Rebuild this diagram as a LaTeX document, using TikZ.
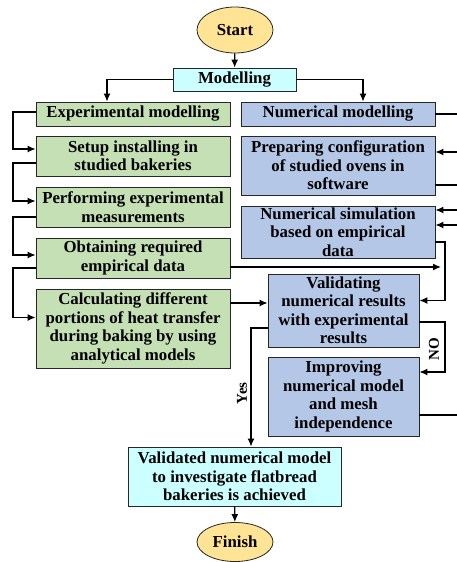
\documentclass[tikz,border=0pt]{standalone}
\usepackage{fontspec}
\setmainfont{Liberation Serif}
\usetikzlibrary{shapes.geometric,arrows.meta,calc}

\definecolor{expgreen}{RGB}{197,224,180}
\definecolor{numblue}{RGB}{180,199,231}
\definecolor{lightcyan}{RGB}{204,255,255}
\definecolor{termgold}{RGB}{255,228,150}

\tikzset{
    box/.style={draw=black!85, line width=0.8pt, inner xsep=2pt, inner ysep=0pt,
        align=center, font=\bfseries\fontsize{16.8}{18.5}\selectfont},
    expbox/.style={box, fill=expgreen, minimum width=194pt},
    numbox/.style={box, fill=numblue},
    cyanbox/.style={box, fill=lightcyan},
    term/.style={box, ellipse, fill=termgold, minimum width=76pt},
    arr/.style={-{Latex[length=8pt,width=7pt]}, line width=1.3pt},
    lne/.style={line width=1.3pt},
    lbl/.style={font=\bfseries\fontsize{15}{16}\selectfont, rotate=90}
}

\begin{document}
\begin{tikzpicture}[x=1pt, y=-1pt]
    \useasboundingbox (0,0) rectangle (457,562);

    % Start and first split
    \node[term, minimum height=46pt] (start) at (235,30) {Start};
    \node[cyanbox, minimum width=123pt, minimum height=23pt] (model) at (234.5,79.5) {Modelling};

    % Experimental branch
    \node[expbox, minimum height=24pt] (expm) at (133,114) {Experimental modelling};
    \node[expbox, minimum height=40pt] (setup) at (133,156) {Setup installing in\\studied bakeries};
    \node[expbox, minimum height=40pt] (perf) at (133,207) {Performing experimental\\measurements};
    \node[expbox, minimum height=40pt] (obt) at (133,258) {Obtaining required\\empirical data};
    \node[expbox, minimum height=79pt] (calc) at (133,328.5) {Calculating different\\portions of heat transfer\\during baking by using\\analytical models};

    % Numerical branch
    \node[numbox, minimum width=194pt, minimum height=24pt] (numm) at (338,114) {Numerical modelling};
    \node[numbox, minimum width=194pt, minimum height=59pt] (prep) at (338,165.5) {Preparing configuration\\of studied ovens in\\software};
    \node[numbox, minimum width=194pt, minimum height=52pt] (nsim) at (338,232) {Numerical simulation\\based on empirical\\data};
    \node[numbox, minimum width=151pt, minimum height=73pt] (valid) at (343.5,310.5) {Validating\\numerical results\\with experimental\\results};
    \node[numbox, minimum width=151pt, minimum height=79pt] (impr) at (343.5,396.5) {Improving\\numerical model\\and mesh\\independence};

    % Result and end
    \node[cyanbox, minimum width=213pt, minimum height=59pt] (final) at (234.5,476.5) {Validated numerical model\\to investigate flatbread\\bakeries is achieved};
    \node[term, minimum height=39pt] (finish) at (235,542) {Finish};

    % Guide lines for the side connectors
    \coordinate (lft) at (13,0);
    \coordinate (rgt) at (445,0);
    \coordinate (edge) at (457,0);

    \draw[arr] (start) -- (model);
    \draw[arr] (model.west) -| ([xshift=-26pt]expm.north);
    \draw[arr] (model.east) -| ([xshift=25pt]numm.north);

    % Left chain of the experimental steps
    \coordinate (e1) at ([yshift=2pt]expm.west);
    \coordinate (s1) at ([yshift=7pt]setup.west);
    \coordinate (s2) at ([yshift=-7pt]setup.west);
    \coordinate (p1) at ([yshift=6pt]perf.west);
    \coordinate (p2) at ([yshift=-10pt]perf.west);
    \coordinate (o1) at ([yshift=3pt]obt.west);
    \coordinate (o2) at ([yshift=-10pt]obt.west);
    \coordinate (c1) at ([yshift=11pt]calc.west);
    \draw[arr] (e1) -- (e1 -| lft) |- (s1);
    \draw[arr] (s2) -- (s2 -| lft) |- (p1);
    \draw[arr] (p2) -- (p2 -| lft) |- (o1);
    \draw[arr] (o2) -- (o2 -| lft) |- (c1);

    % Into the validation
    \coordinate (o3) at ([yshift=-9pt]obt.east);
    \coordinate (n1) at ([yshift=-10pt]nsim.east);
    \coordinate (v1) at ([yshift=10pt]valid.east);
    \coordinate (v2) at ([yshift=7.5pt]valid.west);
    \draw[arr, shorten >=4pt] (o3) -- (o3 -| rgt);
    \draw[arr] (n1) -- (n1 -| rgt) |- (v1);
    \draw[arr] (calc.east |- v2) -- (v2);

    % NO loop
    \coordinate (v3) at ([yshift=-11.5pt]valid.east);
    \coordinate (i1) at ([yshift=24.5pt]impr.east);
    \draw[arr] (v3) -- (v3 -| rgt) -- node[xshift=-11pt, lbl, pos=0.55] {NO} (i1 -| rgt) -- (i1);

    % Yes branch
    \coordinate (v4) at ([yshift=-17.5pt]valid.west);
    \coordinate (f1) at ([xshift=16.5pt]final.north);
    \draw[arr] (v4) -- (v4 -| f1) -- node[xshift=-9pt, lbl, pos=0.55] {Yes} (f1);
    \draw[arr] (final) -- (finish);

    % Connectors running off the right side
    \coordinate (r1) at (numm.east);
    \coordinate (r2) at ([yshift=13.5pt]prep.east);
    \coordinate (r3) at ([yshift=-19.5pt]prep.east);
    \coordinate (r4) at ([yshift=22pt]nsim.east);
    \coordinate (r5) at ([yshift=7pt]nsim.east);
    \coordinate (r6) at ([yshift=-18.5pt]impr.east);
    \draw[lne] (r1) -- (r1 -| edge);
    \draw[arr] (r2 -| edge) -- (r2);
    \draw[lne] (r3) -- (r3 -| edge);
    \draw[arr] (r4 -| edge) -- (r4);
    \draw[arr] (r5 -| edge) -- (r5);
    \draw[lne] (r6) -- (r6 -| edge);
\end{tikzpicture}
\end{document}
